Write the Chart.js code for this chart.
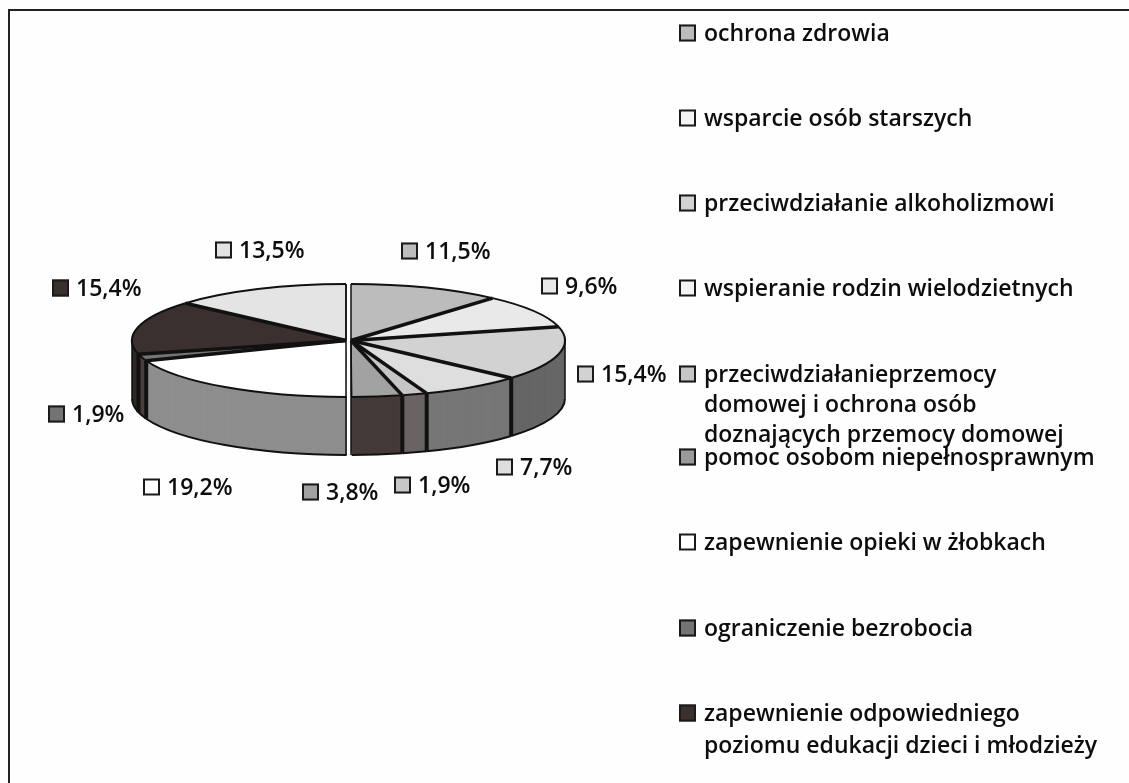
<!DOCTYPE html>
<html lang="pl">
<head>
<meta charset="utf-8">
<title>Wykres</title>
<script src="https://cdn.jsdelivr.net/npm/chart.js@4/dist/chart.umd.min.js"></script>
<style>
    html, body { margin: 0; padding: 0; background: #fefefe; }
    canvas { display: block; }
</style>
</head>
<body>
<canvas id="pieChart" width="1129" height="783"></canvas>
<script>
// Data
const categories = [
    ['ochrona zdrowia'],
    ['wsparcie osób starszych'],
    ['przeciwdziałanie alkoholizmowi'],
    ['wspieranie rodzin wielodzietnych'],
    ['przeciwdziałanieprzemocy', 'domowej i ochrona osób', 'doznających przemocy domowej'],
    ['pomoc osobom niepełnosprawnym'],
    ['zapewnienie opieki w żłobkach'],
    ['ograniczenie bezrobocia'],
    ['zapewnienie odpowiedniego', 'poziomu edukacji dzieci i młodzieży']
];
const values = [11.5, 9.6, 15.4, 7.7, 1.9, 3.8, 19.2, 1.9, 15.4, 13.5];

// Slice colours: top face, side wall, swatch
const topColors = ['#bcbcbc', '#e9e9e9', '#d2d2d2', '#dedede', '#c6c6c6', '#a2a2a2', '#ffffff', '#747474', '#3a3030', '#e4e4e4'];
const sideColors = ['#555555', '#555555', '#666666', '#767676', '#6a6363', '#453a3a', '#8e8e8e', '#4a3e3e', '#2e2828', '#555555'];
const legendColors = ['#bcbcbc', '#f4f4f4', '#d2d2d2', '#f4f4f4', '#c6c6c6', '#9a9a9a', '#ffffff', '#747474', '#3a3030'];

// Layout of the texts (swatch left, centre y)
const valueLabelPos = [[401, 251], [541, 286], [577, 374], [496, 467], [394, 485], [302, 492], [143, 487], [48, 414], [52, 288], [215, 250]];
const legendRows = [[33], [118], [203], [288], [374, 404, 434], [457], [542], [628], [713, 745]];
const legendX = 679;

const FONT = '600 23px "Open Sans"';
const TEXT_COLOR = '#0d0d0d';
const SQUASH = 0.264;
const DEPTH = 58;
const HALF_GAP = 2.5;

function swatch(ctx, x, cy, size, color) {
    ctx.fillStyle = color;
    ctx.fillRect(x, cy - size / 2, size, size);
    ctx.strokeStyle = '#1a1a1a';
    ctx.lineWidth = 2;
    ctx.strokeRect(x + 1, cy - size / 2 + 1, size - 2, size - 2);
}

const pie3d = {
    id: 'pie3d',
    beforeDatasetsDraw(chart) {
        const ctx = chart.ctx;
        const arcs = chart.getDatasetMeta(0).data;
        const cx = arcs[0].x;
        const cy = arcs[0].y;
        const R = arcs[0].outerRadius;
        const isRight = (a) => (a.startAngle + a.endAngle) / 2 < Math.PI / 2;
        const dxOf = (a) => (isRight(a) ? HALF_GAP : -HALF_GAP);

        const paint = (a, color, dy) => {
            const saved = a.options;
            a.options = Object.assign({}, saved, { backgroundColor: color });
            ctx.save();
            ctx.translate(cx + dxOf(a), cy + dy);
            ctx.scale(1, SQUASH);
            ctx.translate(-cx, -cy);
            a.draw(ctx);
            ctx.restore();
            a.options = saved;
        };

        // side walls, back to front on each half
        const right = arcs.filter(isRight);
        const left = arcs.filter((a) => !isRight(a)).reverse();
        right.concat(left).forEach((a) => {
            const idx = arcs.indexOf(a);
            for (let d = DEPTH; d > 0; d -= 1) paint(a, sideColors[idx], d);
        });

        // top faces
        arcs.forEach((a, i) => paint(a, topColors[i], 0));

        ctx.save();
        ctx.strokeStyle = '#111111';
        ctx.lineCap = 'butt';

        arcs.forEach((a) => {
            const x0 = cx + dxOf(a);
            const from = Math.max(a.startAngle, 0);
            const to = Math.min(a.endAngle, Math.PI);

            // bottom rim of the wall
            if (to > from) {
                ctx.lineWidth = 2;
                ctx.beginPath();
                ctx.ellipse(x0, cy + DEPTH, R, R * SQUASH, 0, from, to);
                ctx.stroke();
            }
            // top rim
            ctx.lineWidth = 2;
            ctx.beginPath();
            ctx.ellipse(x0, cy, R, R * SQUASH, 0, a.startAngle, a.endAngle);
            ctx.stroke();
        });

        // radial separators and wall edges
        arcs.forEach((a) => {
            const x0 = cx + dxOf(a);
            const px = x0 + R * Math.cos(a.endAngle);
            const py = cy + R * SQUASH * Math.sin(a.endAngle);
            const inner = Math.abs(a.endAngle - Math.PI / 2) > 0.02 && Math.abs(a.endAngle - Math.PI * 1.5) > 0.02;
            ctx.lineWidth = inner ? 3.5 : 1.5;
            ctx.beginPath();
            ctx.moveTo(x0, cy);
            ctx.lineTo(px, py);
            ctx.stroke();
            if (a.endAngle > 0 && a.endAngle < Math.PI && inner) {
                ctx.lineWidth = 4;
                ctx.beginPath();
                ctx.moveTo(px, py);
                ctx.lineTo(px, py + DEPTH);
                ctx.stroke();
            }
        });

        // straight edges of the two halves
        ctx.lineWidth = 1.5;
        [cx + HALF_GAP, cx - HALF_GAP].forEach((x0) => {
            ctx.beginPath();
            ctx.moveTo(x0, cy - R * SQUASH);
            ctx.lineTo(x0, cy + R * SQUASH + DEPTH);
            ctx.stroke();
        });
        ctx.beginPath();
        ctx.moveTo(cx + HALF_GAP + R, cy);
        ctx.lineTo(cx + HALF_GAP + R, cy + DEPTH);
        ctx.moveTo(cx - HALF_GAP - R, cy);
        ctx.lineTo(cx - HALF_GAP - R, cy + DEPTH);
        ctx.stroke();
        ctx.restore();
        return false;
    },
    afterDraw(chart) {
        const ctx = chart.ctx;
        ctx.save();

        // frame
        ctx.strokeStyle = '#222222';
        ctx.lineWidth = 2;
        ctx.beginPath();
        ctx.moveTo(9, 783);
        ctx.lineTo(9, 10);
        ctx.lineTo(1129, 10);
        ctx.stroke();

        ctx.font = FONT;
        ctx.textBaseline = 'middle';
        ctx.textAlign = 'left';

        // value labels
        values.forEach((v, i) => {
            const [x, y] = valueLabelPos[i];
            swatch(ctx, x, y, 17, topColors[i]);
            ctx.fillStyle = TEXT_COLOR;
            ctx.fillText(v.toFixed(1).replace('.', ',') + '%', x + 24, y + 1);
        });

        // legend
        categories.forEach((lines, i) => {
            swatch(ctx, legendX, legendRows[i][0], 17, legendColors[i]);
            ctx.fillStyle = TEXT_COLOR;
            lines.forEach((line, j) => ctx.fillText(line, legendX + 25, legendRows[i][j] + 1));
        });
        ctx.restore();
    }
};

new Chart(document.getElementById('pieChart'), {
    type: 'pie',
    data: {
        labels: categories.map((c) => c.join(' ')),
        datasets: [{ data: values, backgroundColor: topColors, borderWidth: 0 }]
    },
    options: {
        responsive: false,
        animation: false,
        layout: { padding: { left: 134.5, right: 566.5, top: 126.5, bottom: 228.5 } },
        plugins: { legend: { display: false }, tooltip: { enabled: false }, title: { display: false } }
    },
    plugins: [pie3d]
});
</script>
</body>
</html>
